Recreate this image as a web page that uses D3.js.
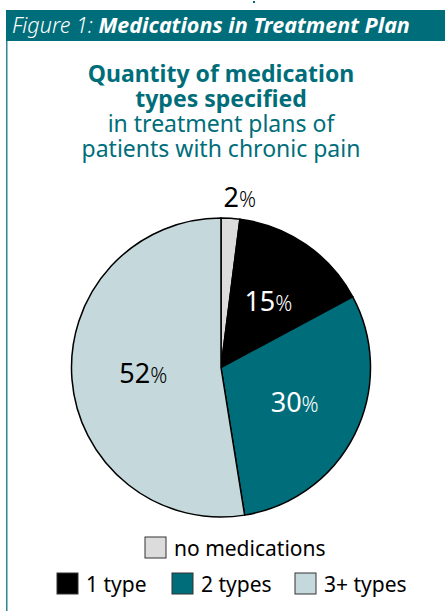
<!DOCTYPE html>
<html>
<head>
<meta charset="utf-8">
<script src="https://cdn.jsdelivr.net/npm/d3@7"></script>
<style>
  html, body { margin: 0; padding: 0; background: #fff; }
  svg { display: block; font-family: "Noto Sans", "Open Sans", sans-serif; }
</style>
</head>
<body>
<div id="chart"></div>
<script>
"use strict";

// data
const categories = ["no medications", "1 type", "2 types", "3+ types"];
const shares = [2, 15, 30, 52];
const sliceColors = ["#dcdcdc", "#000000", "#006e7a", "#c5d9dc"];
const labelColors = ["#000000", "#ffffff", "#ffffff", "#000000"];
const legendRows = [["no medications"], ["1 type", "2 types", "3+ types"]];
const titleBold = ["Quantity of medication", "types specified"];
const titleLight = ["in treatment plans of", "patients with chronic pain"];

const width = 445;
const height = 611;
const teal = "#006e7a";

const svg = d3
  .select("#chart")
  .append("svg")
  .attr("width", width)
  .attr("height", height);

///////////////////////////////////
// frame and header bar
///////////////////////////////////

svg.append("rect")
  .attr("x", 253).attr("y", 1).attr("width", 2).attr("height", 2)
  .attr("fill", teal);

svg.append("rect")
  .attr("x", 6).attr("y", 10).attr("width", 1.5).attr("height", height - 10)
  .attr("fill", "#2f8690");

svg.append("rect")
  .attr("x", 6).attr("y", 10).attr("width", width - 6).attr("height", 31)
  .attr("fill", teal);

const head = svg.append("text")
  .attr("x", 12).attr("y", 33)
  .attr("fill", "#fff")
  .style("font-size", "21.5px")
  .style("font-style", "italic");
head.append("tspan").style("font-weight", 300).text("Figure 1: ");
head.append("tspan").style("font-weight", "bold").text("Medications in Treatment Plan");

///////////////////////////////////
// titles (one text block, one tspan per line)
///////////////////////////////////

const cx = 221;
const title = svg.append("text")
  .attr("text-anchor", "middle")
  .attr("fill", teal)
  .style("font-size", "23px");

const titleLines = titleBold.map((t) => ({ t, bold: true }))
  .concat(titleLight.map((t) => ({ t, bold: false })));

title.selectAll("tspan")
  .data(titleLines)
  .enter()
  .append("tspan")
  .attr("x", cx)
  .attr("y", (d, i) => 82 + i * 25)
  .style("font-weight", (d) => (d.bold ? "bold" : "normal"))
  .text((d) => d.t);

///////////////////////////////////
// pie
///////////////////////////////////

const radius = 149.5;
const pie = d3.pie().sort(null).value((d) => d);
const arcs = pie(shares);
const arc = d3.arc().innerRadius(0).outerRadius(radius);

const g = svg.append("g").attr("transform", `translate(${cx},367.5)`);

g.selectAll("path")
  .data(arcs)
  .enter()
  .append("path")
  .attr("d", arc)
  .attr("fill", (d, i) => sliceColors[i])
  .attr("stroke", "#000")
  .attr("stroke-width", 1.5);

const labelArc = d3.arc().innerRadius(80).outerRadius(80);
const outerArc = d3.arc().innerRadius(170).outerRadius(170);

const labels = g.selectAll(".lab")
  .data(arcs)
  .enter()
  .append("text")
  .attr("class", "lab")
  .attr("transform", (d, i) => {
    const p = (i === 0 ? outerArc : labelArc).centroid(d);
    // small slice label sits outside, nudged right like the original
    const dx = i === 0 ? 8 : 2;
    return `translate(${p[0] + dx},${p[1] + 9})`;
  })
  .attr("text-anchor", "middle")
  .attr("fill", (d, i) => labelColors[i])
  .style("font-size", "27px");
labels.append("tspan").text((d) => d.data);
labels.append("tspan").style("font-size", "21px").style("font-weight", 300).text("%");

///////////////////////////////////
// legend
///////////////////////////////////

const legendPos = [[[145, 537]], [[57, 573], [172, 573], [295, 573]]];
legendRows.forEach((row, r) => {
  row.forEach((name, j) => {
    const idx = categories.indexOf(name);
    const [x, y] = legendPos[r][j];
    svg.append("rect")
      .attr("x", x).attr("y", y)
      .attr("width", 21).attr("height", 21)
      .attr("fill", sliceColors[idx])
      .attr("stroke", "#333")
      .attr("stroke-width", 1);
    svg.append("text")
      .attr("x", x + 29).attr("y", y + 19)
      .attr("fill", "#000")
      .style("font-size", "21px")
      .text(name);
  });
});
</script>
</body>
</html>
